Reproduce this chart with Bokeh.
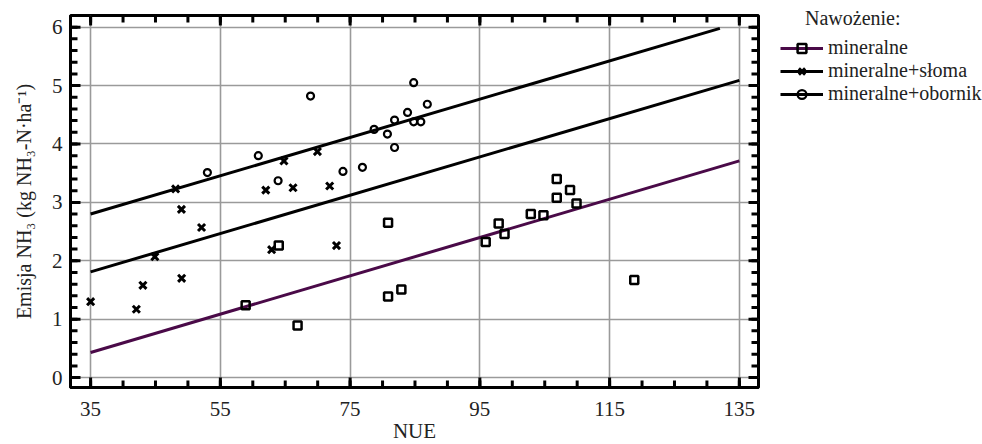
from bokeh.plotting import figure
from bokeh.models import Range1d, Legend, LegendItem, FixedTicker
from bokeh.embed import file_html
from bokeh.resources import INLINE

# ---- data ----
groups = ["mineralne", "mineralne+słoma", "mineralne+obornik"]
legend_title = "Nawożenie:"

min_nue = [58.9, 66.9, 64.0, 80.85, 80.85, 82.9, 95.9, 97.9, 98.8, 102.85,
           104.8, 106.85, 106.85, 108.9, 109.9, 118.8]
min_emis = [1.24, 0.89, 2.26, 2.65, 1.39, 1.51, 2.32, 2.64, 2.46, 2.80,
            2.78, 3.08, 3.40, 3.21, 2.98, 1.67]

sl_nue = [35.0, 42.05, 43.06, 44.9, 49.03, 48.1, 49.0, 52.1, 62.0, 66.2,
          64.8, 69.96, 71.85, 72.9, 62.9]
sl_emis = [1.30, 1.17, 1.58, 2.07, 1.70, 3.23, 2.88, 2.57, 3.21, 3.25,
           3.71, 3.87, 3.28, 2.26, 2.19]

ob_nue = [53.0, 60.85, 63.9, 68.9, 73.9, 76.9, 78.7, 80.75, 81.85, 81.85,
          84.8, 83.85, 84.8, 85.9, 86.9]
ob_emis = [3.51, 3.80, 3.37, 4.82, 3.53, 3.60, 4.25, 4.17, 3.94, 4.41,
           5.05, 4.54, 4.38, 4.38, 4.68]

# fitted lines (end points)
fit_min_nue = [35, 135]
fit_min_emis = [0.43, 3.71]
fit_sl_nue = [35, 135]
fit_sl_emis = [1.81, 5.09]
fit_ob_nue = [35, 132]
fit_ob_emis = [2.80, 5.98]

x_ticks = [35, 55, 75, 95, 115, 135]
y_ticks = [0, 1, 2, 3, 4, 5, 6]
x_minor = list(range(35, 140, 5))
y_minor = [round(v * 0.2, 1) for v in range(0, 31)]

FONT = "Liberation Serif"
PURPLE = "#4a0a48"
TXT = "#222222"

W, H = 982, 444
BL, BR, BT, BB = 70, 224, 15, 57
FW, FH = W - BL - BR, H - BT - BB
X0, X1 = 31.9, 137.95
Y0, Y1 = -0.17, 6.2

p = figure(frame_width=FW, frame_height=FH, output_backend="svg",
           toolbar_location=None,
           x_range=Range1d(X0, X1), y_range=Range1d(Y0, Y1),
           min_border_left=BL, min_border_right=BR, min_border_top=BT,
           min_border_bottom=BB)
p.background_fill_color = "white"
p.border_fill_color = "white"
p.outline_line_color = "black"
p.outline_line_width = 3

for ax in (p.xaxis[0], p.yaxis[0]):
    ax.axis_line_width = 3
    ax.major_tick_line_color = None
    ax.minor_tick_line_color = None
    ax.major_tick_out = 0
    ax.minor_tick_out = 0
    ax.major_label_text_font = FONT
    ax.major_label_text_font_size = "21px"
    ax.major_label_text_color = TXT
    ax.axis_label_text_font = FONT
    ax.axis_label_text_font_size = "20px"
    ax.axis_label_text_font_style = "normal"
    ax.axis_label_text_color = TXT

p.xaxis[0].ticker = FixedTicker(ticks=x_ticks)
p.yaxis[0].ticker = FixedTicker(ticks=y_ticks)
p.xaxis[0].axis_label = "NUE"
p.yaxis[0].axis_label = "Emisja NH₃ (kg NH₃-N·ha⁻¹)"
p.xaxis[0].axis_label_text_font_size = "21px"
p.xaxis[0].major_label_standoff = 14
p.xaxis[0].axis_label_standoff = 0
p.yaxis[0].major_label_standoff = 8
p.yaxis[0].axis_label_standoff = 14

p.xgrid.ticker = FixedTicker(ticks=x_ticks)
p.ygrid.ticker = FixedTicker(ticks=y_ticks)
p.grid.grid_line_color = "#9a9a9a"
p.grid.grid_line_width = 1.6

# inward tick marks on all four sides (drawn as segments from the tick lists)
kx = (X1 - X0) / FW    # data units per pixel, x
ky = (Y1 - Y0) / FH    # data units per pixel, y
MAJ, MIN = 10, 7
tick_style = dict(line_color="black", line_width=3, line_cap="butt")
for ticks, ln in ((x_minor, MIN), (x_ticks, MAJ)):
    p.segment(x0=ticks, y0=[Y0] * len(ticks), x1=ticks,
              y1=[Y0 + ln * ky] * len(ticks), **tick_style)
    p.segment(x0=ticks, y0=[Y1] * len(ticks), x1=ticks,
              y1=[Y1 - ln * ky] * len(ticks), **tick_style)
for ticks, ln in ((y_minor, MIN), (y_ticks, MAJ)):
    p.segment(x0=[X0] * len(ticks), y0=ticks, x1=[X0 + ln * kx] * len(ticks),
              y1=ticks, **tick_style)
    p.segment(x0=[X1] * len(ticks), y0=ticks, x1=[X1 - ln * kx] * len(ticks),
              y1=ticks, **tick_style)

# fitted lines
l_min = p.line(fit_min_nue, fit_min_emis, line_color=PURPLE, line_width=3)
l_sl = p.line(fit_sl_nue, fit_sl_emis, line_color="black", line_width=3)
l_ob = p.line(fit_ob_nue, fit_ob_emis, line_color="black", line_width=3)

# points
s_min = p.scatter(min_nue, min_emis, marker="square", size=8, line_width=2.5,
                  line_color="black", fill_color=None)
s_sl = p.scatter(sl_nue, sl_emis, marker="x", size=10, line_width=3,
                 line_color="black")
s_ob = p.scatter(ob_nue, ob_emis, marker="circle", size=7, line_width=2.2,
                 line_color="black", fill_color=None)

legend = Legend(items=[
    LegendItem(label=groups[0], renderers=[l_min, s_min]),
    LegendItem(label=groups[1], renderers=[l_sl, s_sl]),
    LegendItem(label=groups[2], renderers=[l_ob, s_ob]),
], location=(22, 282),
    title="\u00a0" * 5 + legend_title,
    title_text_font=FONT, title_text_font_size="20px",
    title_text_font_style="normal", title_text_color=TXT, title_standoff=6,
    label_text_font=FONT, label_text_font_size="20px",
    label_text_color=TXT,
    background_fill_alpha=0, border_line_color=None,
    margin=0, padding=0, spacing=0,
    glyph_width=43, glyph_height=22, label_height=22, label_standoff=5)
p.add_layout(legend, "right")

open("out.html", "w").write(file_html(p, INLINE))
